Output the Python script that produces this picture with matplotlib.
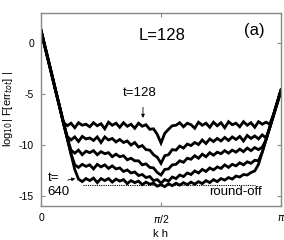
import numpy as np
import matplotlib
matplotlib.use("Agg")
import matplotlib.pyplot as plt

plt.rcParams['font.family'] = ['Liberation Sans', 'DejaVu Sans']
plt.rcParams['mathtext.fontset'] = 'dejavusans'

# k h grid: 65 modes from 0 to pi (L=128)
n_modes = 65
kh = np.linspace(0, np.pi, n_modes)

err_t128 = [1.3, -0.2, -1.7, -3.2, -4.8, -6.3, -7.75, -8.1, -7.85, -8.3,
            -7.8, -8.05, -7.95, -8.2, -7.8, -8.1, -7.9, -8.4, -7.75, -8.05,
            -7.85, -8.25, -7.8, -8.15, -7.95, -8.35, -7.85, -8.15, -8.0, -8.45,
            -8.4, -8.95, -9.8, -8.85, -8.45, -8.1, -8.05, -7.8, -8.2, -7.85,
            -8.0, -8.35, -7.75, -8.05, -7.85, -8.25, -7.75, -8.1, -7.8, -8.3,
            -7.7, -8.0, -7.85, -8.2, -7.7, -8.05, -7.8, -8.25, -7.7, -7.95,
            -7.75, -7.95, -7.0, -5.8, -4.6]
err_t256 = [1.2, -0.3, -1.8, -3.3, -4.8, -6.3, -7.9, -9.15, -9.5, -9.2,
            -9.65, -9.15, -9.4, -9.3, -9.55, -9.2, -9.75, -9.2, -9.5, -9.35,
            -9.7, -9.45, -9.75, -9.6, -10.0, -9.75, -10.2, -10.05, -10.45, -10.5,
            -10.95, -11.2, -11.8, -11.05, -10.95, -10.45, -10.5, -10.1, -10.3, -9.9,
            -10.05, -9.75, -9.95, -9.5, -9.85, -9.4, -9.65, -9.35, -9.6, -9.25,
            -9.55, -9.2, -9.45, -9.15, -9.6, -9.05, -9.35, -9.1, -9.4, -9.0,
            -9.3, -8.3, -7.1, -5.9, -4.7]
err_t384 = [1.25, -0.25, -1.75, -3.3, -4.8, -6.3, -7.85, -9.3, -10.5, -10.8,
            -10.5, -10.95, -10.6, -10.75, -10.55, -10.95, -10.65, -10.85, -10.75, -11.15,
            -10.9, -11.15, -11.05, -11.45, -11.3, -11.55, -11.55, -11.95, -11.85, -12.2,
            -12.25, -12.7, -12.95, -12.4, -12.35, -11.95, -11.9, -11.55, -11.7, -11.3,
            -11.4, -11.05, -11.3, -10.9, -11.15, -10.75, -11.0, -10.7, -10.85, -10.55,
            -10.8, -10.5, -10.7, -10.4, -10.65, -10.3, -10.55, -10.25, -10.45, -10.2,
            -9.5, -8.3, -7.05, -5.85, -4.6]
err_t512 = [1.35, -0.2, -1.7, -3.25, -4.75, -6.3, -7.8, -9.35, -10.85, -11.95,
            -12.2, -11.9, -12.1, -11.95, -12.35, -11.9, -12.15, -11.95, -12.3, -12.05,
            -12.35, -12.25, -12.6, -12.45, -12.75, -12.65, -13.0, -12.9, -13.2, -13.1,
            -13.5, -13.4, -13.75, -13.4, -13.55, -13.15, -13.3, -12.95, -13.1, -12.75,
            -12.9, -12.55, -12.75, -12.4, -12.6, -12.25, -12.45, -12.15, -12.3, -11.95,
            -12.2, -11.9, -12.05, -11.75, -11.95, -11.65, -11.8, -11.5, -11.55, -10.7,
            -9.5, -8.25, -7.05, -5.8, -4.6]
err_t640 = [1.3, -0.25, -1.75, -3.25, -4.8, -6.3, -7.85, -9.35, -10.9, -12.4,
            -13.35, -13.6, -13.3, -13.5, -13.25, -13.7, -13.3, -13.5, -13.3, -13.65,
            -13.35, -13.55, -13.4, -13.8, -13.5, -13.7, -13.55, -13.9, -13.65, -13.85,
            -13.75, -14.05, -13.9, -14.1, -13.8, -14.0, -13.75, -13.95, -13.7, -13.9,
            -13.65, -13.85, -13.6, -13.8, -13.5, -13.7, -13.4, -13.6, -13.3, -13.45,
            -13.2, -13.35, -13.05, -13.15, -12.9, -12.95, -12.7, -12.55, -11.9, -10.7,
            -9.45, -8.25, -7.05, -5.8, -4.6]
curves = [err_t128, err_t256, err_t384, err_t512, err_t640]

roundoff_kh = [0.55, 2.80]
roundoff_level = [-13.9, -13.9]

xticks = [0, np.pi / 2, np.pi]
xticklabels = ['0', r'$\pi$/2', r'$\pi$']
yticks = [0, -5, -10, -15]
yticklabels = ['0', '-5', '-10', '-15']

fig = plt.figure(figsize=(2.84, 2.40), dpi=100)
ax = fig.add_axes([0.1444, 0.1417, 0.845, 0.8041])

for c in curves:
    ax.plot(kh, c, color='black', lw=2.0, solid_joinstyle='miter')
ax.plot(roundoff_kh, roundoff_level, color='black', lw=0.8, ls=(0, (1, 1)))

ax.set_xlim(0, np.pi)
ax.set_ylim(-16, 3)
ax.set_xticks(xticks)
ax.set_xticklabels(xticklabels)
ax.set_yticks(yticks)
ax.set_yticklabels(yticklabels)
ax.tick_params(direction='in', length=3, width=0.8, color='#888888',
               labelsize=7.5, top=True, right=True, pad=5)
for s in ax.spines.values():
    s.set_color('#888888')
    s.set_linewidth(1.0)

ax.set_xlabel('k h', fontsize=8, labelpad=3)
ax.set_ylabel(r'log$_{10}$| F[err$_{tot}$] |', fontsize=8)
ax.yaxis.set_label_coords(-0.11, 0.5)

ax.text(1.584, 0.78, 'L=128', fontsize=12, ha='center', va='center')
ax.text(2.788, 1.27, '(a)', fontsize=12, ha='center', va='center')
ax.text(1.296, -4.87, 't=128', fontsize=9.5, ha='center', va='center')
ax.annotate('', xy=(1.335, -7.6), xytext=(1.335, -6.0),
            arrowprops=dict(arrowstyle='-|>', color='black', lw=0.6,
                            mutation_scale=5))
ax.text(0.085, -13.9, 't=\n640', fontsize=9.5, ha='left', va='center',
        linespacing=1.2)
ax.annotate('', xy=(0.484, -13.25), xytext=(0.314, -13.5),
            arrowprops=dict(arrowstyle='-|>', color='black', lw=0.6,
                            mutation_scale=5))
ax.text(2.546, -14.6, 'round-off', fontsize=9.5, ha='center', va='center')

fig.savefig('out.png', dpi=100)
